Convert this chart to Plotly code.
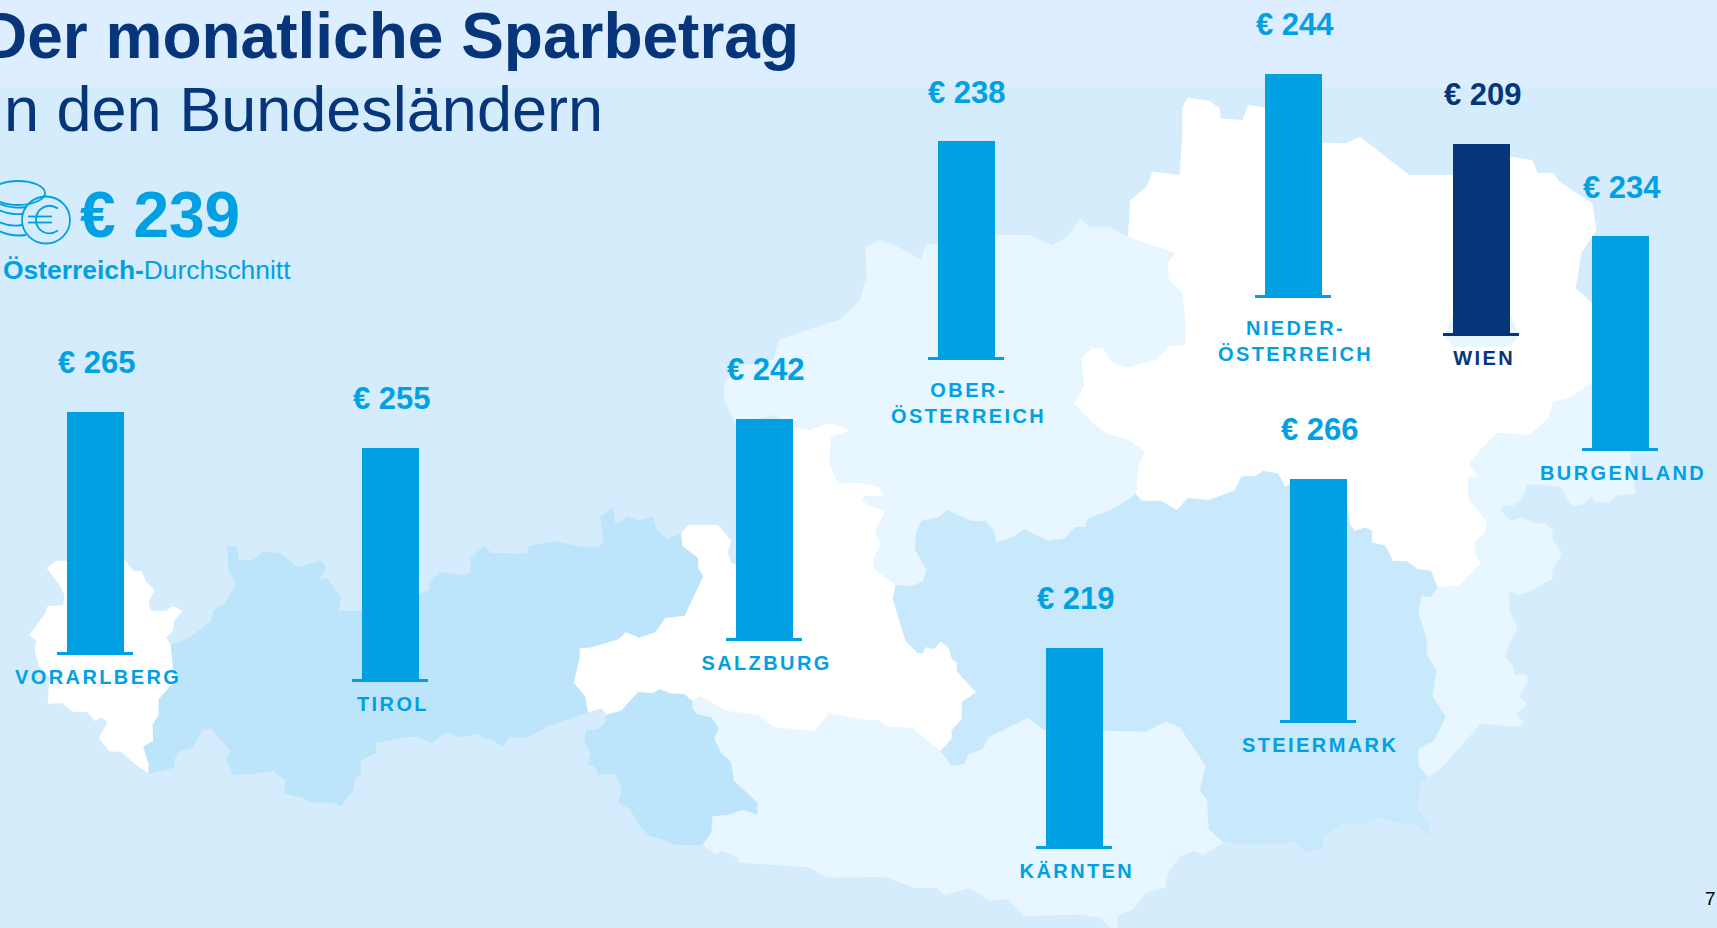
import plotly.graph_objects as go

# ---------- chart data ----------
states = ["VORARLBERG", "TIROL", "SALZBURG", "OBER-<br>ÖSTERREICH", "NIEDER-<br>ÖSTERREICH",
          "WIEN", "BURGENLAND", "KÄRNTEN", "STEIERMARK"]
savings = [265, 255, 242, 238, 244, 209, 234, 219, 266]
average_value = "€ 239"

# ---------- layout of the small bar panels (pixels) ----------
W, H = 1717, 928
bar_center = [94.5, 389.5, 763.5, 965.5, 1292.5, 1480.5, 1619.5, 1073.5, 1317.5]
bar_bottom = [652, 679, 638, 357, 295, 333, 448, 846, 720]
PX_PER_EURO = 0.908
Y_MAX = 300
PANEL_W = 76
BLUE = "#00A0E3"
NAVY = "#06357A"
bar_colors = [NAVY if s == "WIEN" else BLUE for s in states]

def z1(p): return [(x / 1.823, y / 3) for x, y in p]
def z2(p): return [(860 + x / 1.83, y / 3) for x, y in p]
def z3(p): return [(x / 1.823, 464 + y / 3) for x, y in p]
def z4(p): return [(860 + x / 1.83, 464 + y / 3) for x, y in p]

vorarlberg = z3([(85,312),(102,290),(122,290),(226,285),(243,322),(258,320),(267,355),(282,378),(271,414),(275,440),(302,440),(316,426),(332,440),(318,470),(314,505),(303,520),(311,542),(315,610),(322,640),(311,665),(289,706),(289,752),(278,782),(279,830),(261,848),(271,900),(270,928),(244,898),(222,864),(199,862),(180,822),(196,775),(184,760),(174,772),(159,744),(133,743),(113,717),(87,720),(90,640),(72,610),(63,560),(66,530),(53,513),(81,452),(87,426),(115,424),(118,395),(108,362)])
tirol = z3([(414,247),(432,247),(436,287),(458,291),(481,262),(510,268),(543,310),(585,291),(595,313),(582,347),(596,343),(622,398),(617,440),(660,441),(660,400),(764,390),(782,378),(782,356),(801,324),(844,334),(859,325),(858,282),(882,246),(896,267),(960,268),(965,245),(1010,232),(1060,248),(1090,248),(1100,232),(1094,158),(1117,130),(1122,180),(1146,157),(1163,170),(1190,157),(1197,197),(1216,226),(1242,206),(1244,246),(1273,283),(1273,312),(1282,337),(1248,456),(1213,461),(1195,505),(1165,521),(1141,505),(1128,526),(1075,551),(1057,552),(1057,580),(1046,657),(1067,697),(1072,745),(1000,786),(960,823),(928,819),(918,850),(895,824),(882,823),(869,810),(838,820),(815,803),(787,838),(762,819),(740,819),(685,837),(685,867),(658,889),(658,927),(645,952),(645,976),(622,1025),(605,1016),(567,1016),(553,1003),(517,988),(521,950),(498,921),(462,929),(426,934),(412,887),(420,860),(385,795),(369,799),(351,851),(329,861),(318,885),(318,911),(270,930),(271,900),(261,848),(279,830),(278,782),(289,752),(289,706),(311,665),(322,640),(315,610),(311,542),(340,528),(385,470),(389,440),(408,420),(430,362),(417,320)])
osttirol = z3([(1105,752),(1132,740),(1163,684),(1190,687),(1203,675),(1222,688),(1247,690),(1262,710),(1263,735),(1272,751),(1297,760),(1311,795),(1302,822),(1314,866),(1333,895),(1338,950),(1381,1016),(1381,1052),(1355,1038),(1326,1053),(1299,1057),(1297,1105),(1281,1143),(1232,1143),(1210,1127),(1183,1115),(1163,1078),(1148,1035),(1127,1015),(1134,972),(1120,930),(1091,933),(1083,905),(1071,903),(1077,868),(1065,835),(1068,800),(1090,795),(1103,778)])
salzburg = (z3([(1242,206),(1255,183),(1309,183),(1333,230),(1327,265),(1333,298),(1342,300)])
            + z1([(1446,1283),(1475,1290),(1515,1268),(1550,1292),(1515,1310),(1512,1392)])
            + z3([(1528,58),(1568,57)])
            + z4([(35,68),(43,97),(8,95),(5,110),(22,130),(47,140),(28,200),(38,245),(25,280),(25,312),(65,362),(60,405),(83,530),(105,568),(115,568),(120,550),(135,555),(148,533),(162,552),(168,585),(177,595),(177,622),(212,685),(186,715),(186,765),(167,800),(168,823),(147,862),(95,792),(52,790),(32,768),(0,767)])
            + z3([(1512,748),(1485,802),(1410,790),(1383,752),(1326,742),(1277,697),(1262,710),(1247,690),(1222,688),(1203,675),(1190,687),(1163,684),(1132,740),(1105,752),(1097,733),(1072,745),(1067,697),(1046,657),(1057,580),(1057,552),(1075,551),(1128,526),(1141,505),(1165,521),(1195,505),(1213,461),(1248,456),(1282,337),(1273,312),(1273,283),(1244,246)]))
oberoesterreich = (z1([(1320,1150),(1340,1100),(1410,1080),(1420,1020),(1480,985),(1530,960),(1568,900)])
            + z2([(12,830),(10,740),(38,720),(75,745),(112,780),(120,735),(143,730),(247,705),(310,705),(352,735),(380,710),(403,655),(420,680),(455,680),(490,710),(515,725),(577,760),(562,790),(565,840),(590,880),(595,960),(595,1035),(567,1037),(540,1080),(490,1102),(460,1085),(445,1045),(425,1043),(405,1075),(410,1160),(392,1210),(425,1270),(450,1300),(490,1320),(522,1355),(512,1392)])
            + z4([(505,90),(465,133),(415,165),(413,188),(393,190),(375,223),(345,230),(300,196),(280,218),(250,235),(245,200),(230,172),(203,170),(160,138),(143,160),(113,170),(103,205),(100,255),(122,318),(115,352),(95,367),(65,362),(25,312),(25,280),(38,245),(28,200),(47,140),(22,130),(5,110),(8,95),(43,97),(35,68),(0,60)])
            + z3([(1528,58),(1512,0)])
            + z1([(1515,1310),(1550,1292),(1515,1268),(1475,1290),(1446,1283),(1410,1245),(1340,1270),(1320,1200)]))
niederoesterreich = (z2([(590,320),(600,293),(640,303),(658,325),(660,355),(700,360),(710,315),(740,322),(845,428),(890,430),(915,410),(1005,525),(1085,525),(1190,470),(1230,480),(1240,518),(1270,520),(1280,545),(1340,610),(1348,690),(1320,760),(1310,865),(1340,910),(1345,1140),(1300,1195),(1268,1205),(1260,1255),(1225,1305),(1165,1300),(1135,1350),(1115,1392)])
            + z4([(1130,38),(1113,38),(1113,105),(1147,172),(1145,205),(1127,230),(1125,265),(1136,298),(1097,365),(1057,370),(1045,320),(1020,315),(1002,292),(975,290),(962,245),(937,235),(937,200),(925,190),(905,200),(897,180),(890,110),(787,60),(778,68),(765,28),(738,20),(722,37),(698,37),(685,80),(637,108),(600,102),(580,138),(550,110),(515,110),(505,90),(510,0)])
            + z2([(522,1355),(490,1320),(450,1300),(425,1270),(392,1210),(410,1160),(405,1075),(425,1043),(445,1045),(460,1085),(490,1102),(540,1080),(567,1037),(595,1035),(595,960),(590,880),(565,840),(562,790),(577,760),(515,725),(490,710),(495,600),(525,560),(535,515),(585,525),(590,400)]))
wien = z2([(1070,1004),(1085,1040),(1190,1040),(1206,1004),(1190,945),(1085,945)])
burgenland = (z2([(1340,910),(1400,910),(1411,1392)])
            + z4([(1420,90),(1385,95),(1370,115),(1345,115),(1338,95),(1325,120),(1303,127),(1282,70),(1250,62),(1220,62),(1213,100),(1195,125),(1175,127),(1175,145),(1190,170),(1210,160),(1235,178),(1255,178),(1268,200),(1268,230),(1283,260),(1283,275),(1267,315),(1267,345),(1222,385),(1205,393),(1188,383),(1188,440),(1203,492),(1188,540),(1181,580),(1195,605),(1198,632),(1220,632),(1222,652),(1207,697),(1219,717),(1217,730),(1200,747),(1214,775),(1207,788),(1135,780),(1068,905),(1040,940),(1022,905),(1022,855),(1050,830),(1072,760),(1048,695),(1055,620),(1037,570),(1037,525),(1022,445),(1027,395),(1045,400),(1057,370),(1097,365),(1136,298),(1125,265),(1127,230),(1145,205),(1147,172),(1113,105),(1113,38),(1130,38)])
            + z2([(1115,1392),(1135,1350),(1165,1300),(1225,1305),(1260,1255),(1268,1205),(1300,1195),(1345,1140)]))
steiermark = z4([(65,362),(95,367),(115,352),(122,318),(100,255),(103,205),(113,170),(143,160),(160,138),(203,170),(230,172),(245,200),(250,235),(280,218),(300,196),(345,230),(375,223),(393,190),(413,188),(415,165),(465,133),(505,90),(515,110),(550,110),(580,138),(600,102),(637,108),(685,80),(698,37),(722,37),(738,20),(765,28),(778,68),(787,60),(890,110),(897,180),(905,200),(925,190),(937,200),(937,235),(962,245),(975,290),(1002,292),(1020,315),(1045,320),(1057,370),(1045,400),(1027,395),(1022,445),(1037,525),(1037,570),(1055,620),(1048,695),(1072,760),(1050,830),(1022,855),(1022,905),(1040,940),(1025,955),(1020,1035),(1042,1078),(1040,1115),(1018,1082),(990,1078),(950,1062),(925,1080),(885,1080),(850,1115),(845,1155),(818,1168),(795,1135),(720,1143),(665,1135),(638,1095),(635,1005),(622,980),(632,905),(585,790),(560,773),(522,803),(445,800),(335,797),(307,762),(235,820),(225,855),(198,872),(190,900),(168,905),(147,862),(168,823),(167,800),(186,765),(186,715),(212,685),(177,622),(177,595),(168,585),(162,552),(148,533),(135,555),(120,550),(115,568),(105,568),(83,530),(60,405)])
kaernten = (z3([(1277,697),(1326,742),(1383,752),(1410,790),(1485,802),(1512,748),(1568,767)])
            + z4([(32,768),(52,790),(95,792),(147,862),(168,905),(190,900),(198,872),(225,855),(235,820),(307,762),(335,797),(445,800),(522,803),(560,773),(585,790),(632,905),(622,980),(635,1005),(638,1095),(665,1135),(628,1173),(612,1162),(585,1178),(565,1222),(558,1272),(525,1285),(500,1335),(472,1355),(470,1392),(458,1392),(440,1362),(405,1352),(300,1355),(270,1305),(238,1310),(200,1273),(155,1292),(140,1272),(100,1272),(45,1238),(0,1240)])
            + z3([(1507,1242),(1475,1210),(1347,1196),(1345,1180),(1315,1160),(1303,1170),(1281,1143),(1297,1105),(1299,1057),(1326,1053),(1355,1038),(1381,1052),(1381,1016),(1338,950),(1333,895),(1314,866),(1302,822),(1311,795),(1297,760),(1272,751),(1263,735),(1262,710)]))

LIGHT = "#E8F6FF"
regions = [(tirol, "#BCE4FB"), (osttirol, "#BCE4FB"), (steiermark, "#C8E8FB"),
           (oberoesterreich, LIGHT), (kaernten, LIGHT), (burgenland, LIGHT),
           (vorarlberg, "#FFFFFF"), (salzburg, "#FFFFFF"), (niederoesterreich, "#FFFFFF"), (wien, LIGHT)]

fig = go.Figure()
for poly, color in regions:
    xs = [p[0] for p in poly] + [poly[0][0]]
    ys = [p[1] for p in poly] + [poly[0][1]]
    fig.add_trace(go.Scatter(x=xs, y=ys, mode="lines", fill="toself", fillcolor=color,
                             line=dict(width=0, color=color), hoverinfo="skip", showlegend=False))

font = "Liberation Sans, Arial, sans-serif"
layout = dict(
    width=W, height=H, autosize=False, margin=dict(l=0, r=0, t=0, b=0),
    paper_bgcolor="#D4ECFC", plot_bgcolor="rgba(0,0,0,0)", showlegend=False, bargap=0,
    xaxis=dict(domain=[0, 1], range=[0, W], visible=False, fixedrange=True),
    yaxis=dict(domain=[0, 1], range=[H, 0], visible=False, fixedrange=True),
)
annotations = []

for i, (name, val) in enumerate(zip(states, savings)):
    n = i + 2
    xa, ya = f"x{n}", f"y{n}"
    fig.add_trace(go.Bar(x=[0], y=[val], width=[0.75], marker=dict(color=bar_colors[i], line=dict(width=0)),
                         xaxis=xa, yaxis=ya, showlegend=False, hoverinfo="skip"))
    cx, bot = bar_center[i], bar_bottom[i]
    layout[f"xaxis{n}"] = dict(domain=[(cx - PANEL_W / 2) / W, (cx + PANEL_W / 2) / W], range=[-0.5, 0.5],
                               anchor=ya, showline=True, linecolor=bar_colors[i], linewidth=3,
                               showgrid=False, zeroline=False, showticklabels=False, ticks="", fixedrange=True)
    layout[f"yaxis{n}"] = dict(domain=[1 - bot / H, 1 - (bot - Y_MAX * PX_PER_EURO) / H], range=[0, Y_MAX],
                               anchor=xa, visible=False, fixedrange=True)
    annotations.append(dict(xref=xa, yref=ya, x=0, y=val, xshift=2, yshift=29, xanchor="center", yanchor="bottom",
                            text=f"<b>€ {val}</b>", showarrow=False,
                            font=dict(family=font, size=31, color=bar_colors[i])))
    two_lines = "<br>" in name
    annotations.append(dict(xref=xa, yref=ya, x=0, y=0, xshift=3, yshift=-20.5 if two_lines else -12,
                            xanchor="center", yanchor="top",
                            text=f"<b>{name}</b>", showarrow=False,
                            font=dict(family=font, size=20, color=bar_colors[i])))

def text_px(x, y, text, size, color, anchor="left"):
    annotations.append(dict(xref="x", yref="y", x=x, y=y, text=text, showarrow=False, xanchor=anchor,
                            yanchor="middle", font=dict(family=font, size=size, color=color)))

text_px(801, 36, "<b>Der monatliche Sparbetrag</b>", 64, NAVY, "right")
text_px(605, 109, "in den Bundesländern", 63, NAVY, "right")
text_px(78, 215, f"<b>{average_value}</b>", 64, BLUE)
text_px(1, 270, "<b>Österreich-</b>Durchschnitt", 26.4, BLUE)
text_px(1703, 898, "7", 19, "#000000")

COIN_DY = -1.5
shapes = [
    dict(type="rect", xref="x", yref="y", x0=0, x1=W, y0=0, y1=88, fillcolor="#DCEEFF", line_width=0, layer="below"),
    dict(type="circle", xref="x", yref="y", x0=22, x1=70, y0=198 + COIN_DY, y1=245 + COIN_DY, line=dict(color=BLUE, width=1.8), layer="above"),
    dict(type="circle", xref="x", yref="y", x0=-9, x1=45, y0=181, y1=205, line=dict(color=BLUE, width=1.8), layer="above"),
]
for d in ["M 0 204 Q 12 209 26 207", "M -1 210 Q 10 215 22 214", "M -1 222 Q 10 227 22 225", "M -1 231 Q 12 237 26 235",
          "M 58 208.5 C 47 201.5 36 209.5 36 219.5 C 36 230.5 47 237.5 58 230.5", "M 28 216.5 L 52 216.5", "M 28 222.5 L 52 222.5"]:
    shapes.append(dict(type="path", xref="x", yref="y", path=d, line=dict(color=BLUE, width=1.8), layer="above"))

fig.update_layout(**layout, annotations=annotations, shapes=shapes)

post = """
document.documentElement.style.overflow='hidden';
document.body.style.margin='0';document.body.style.overflow='hidden';
var names=['VORARLBERG','TIROL','SALZBURG','OBER-','ÖSTERREICH','NIEDER-','WIEN','BURGENLAND','KÄRNTEN','STEIERMARK'];
document.querySelectorAll('.annotation-text').forEach(function(t){
  if(names.some(function(n){return t.textContent.indexOf(n)>=0;})){t.style.letterSpacing='2.4px';}
});
"""
fig.write_html("out.html", post_script=post, config=dict(displayModeBar=False))
